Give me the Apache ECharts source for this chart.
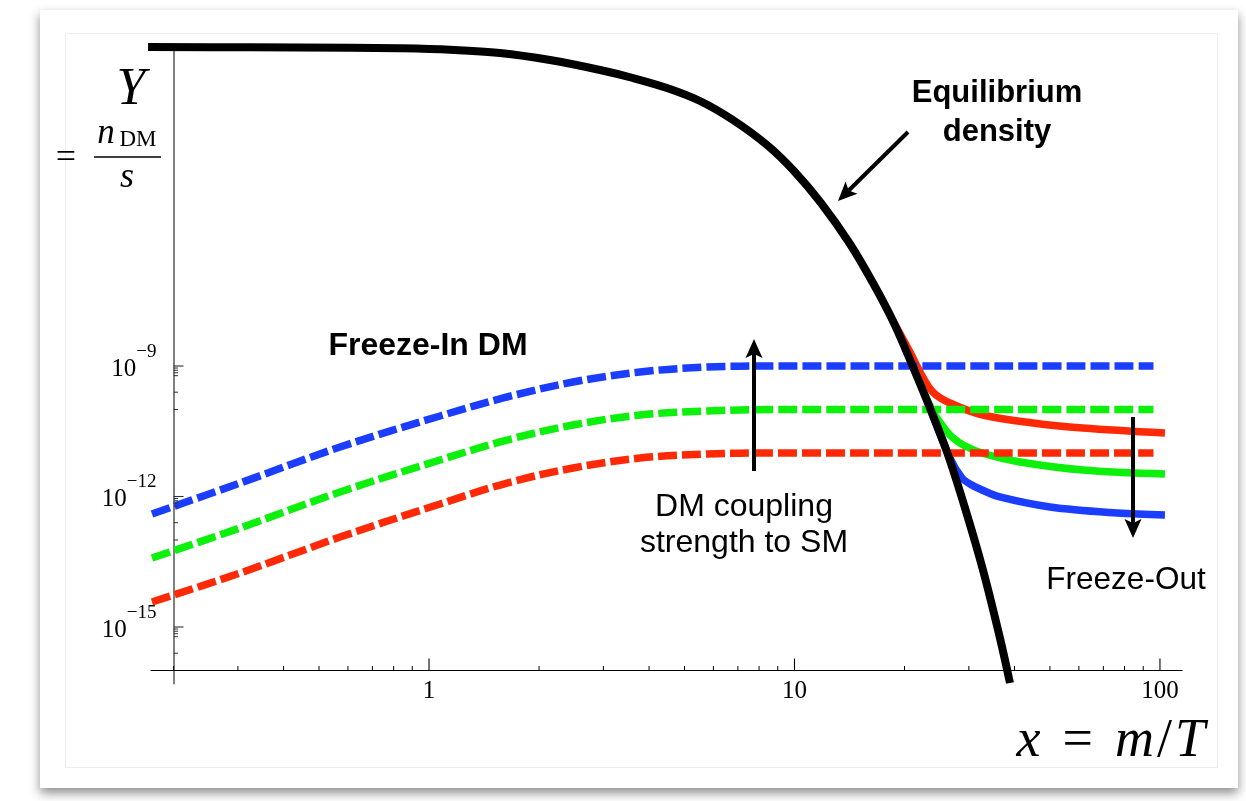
<!DOCTYPE html>
<html><head><meta charset="utf-8">
<script src="https://cdn.jsdelivr.net/npm/echarts@6/dist/echarts.min.js"></script>
<style>html,body{margin:0;padding:0;background:#fff;}#c{width:1246px;height:801px;}</style>
</head><body><div id="c"></div>
<script>
// ---------- data ----------
// Equilibrium density (black)
const eqX = [0.1703, 0.3237, 0.6078, 0.8332, 1.1417, 1.564, 2.143, 2.938, 3.614, 4.479, 5.514, 6.788, 8.410, 9.968, 11.82, 14.19, 16.40, 18.60, 20.83, 23.48, 26.14, 29.28, 32.79, 36.49, 38.87];
const eqY = [0.02153, 0.02118, 0.02075, 0.0201, 0.01858, 0.01567, 0.01081, 0.00638, 0.004178, 0.00246, 0.001236, 4.52e-4, 1.202e-4, 3.04e-5, 5.58e-6, 6.38e-7, 8.09e-8, 1.08e-8, 1.236e-9, 1.083e-10, 1.054e-11, 5.44e-13, 2.04e-14, 5.58e-16, 5.16e-17];

// Freeze-in (dashed)
const fiX      = [0.1746, 0.304, 0.571, 1.072, 1.635, 2.477, 3.778, 5.763, 8.735, 30, 96];
const fiBlueY  = [3.96e-13, 2.04e-12, 1.374e-11, 7.10e-11, 1.94e-10, 4.29e-10, 7.28e-10, 9.48e-10, 1.0e-9, 1.0e-9, 1.0e-9];
const fiGreenY = [3.85e-14, 1.89e-13, 1.27e-12, 6.90e-12, 1.99e-11, 4.40e-11, 7.48e-11, 9.25e-11, 1.0e-10, 1.0e-10, 1.0e-10];
const fiRedY   = [3.76e-15, 1.74e-14, 1.17e-13, 6.73e-13, 2.04e-12, 4.52e-12, 7.67e-12, 9.48e-12, 1.0e-11, 1.0e-11, 1.0e-11];

// Freeze-out (solid)
const foRedX   = [18.60, 20.70, 22.05, 23.92, 26.63, 32.79, 44.93, 61.55, 103.2];
const foRedY   = [1.08e-8, 2.10e-9, 7.28e-10, 2.52e-10, 1.41e-10, 7.48e-11, 4.90e-11, 3.76e-11, 2.88e-11];
const foGreenX = [20.83, 23.78, 25.32, 26.97, 29.28, 33.20, 41.40, 61.55, 103.2];
const foGreenY = [1.236e-9, 9.75e-11, 4.40e-11, 2.33e-11, 1.45e-11, 9.48e-12, 6.21e-12, 4.07e-12, 3.29e-12];
const foBlueX  = [23.48, 26.63, 28.73, 30.21, 32.17, 36.49, 50.0, 76.3, 103.2];
const foBlueY  = [1.083e-10, 7.67e-12, 2.66e-12, 1.94e-12, 1.49e-12, 9.75e-13, 5.74e-13, 4.18e-13, 3.76e-13];

// Ticks and labels
const xLabelTicks = [1, 10, 100];
const xMinorTicks = [0.2,0.3,0.4,0.5,0.6,0.7,0.8,0.9, 2,3,4,5,6,7,8,9, 20,30,40,50,60,70,80,90];
const yLabelTicks = [1e-9, 1e-12, 1e-15];
const yMinorTicks = [9e-10,8e-10,7e-10,6e-10,2.5e-10,1e-10, 9e-13,8e-13,7e-13,6e-13,2.5e-13,1e-13, 9e-16,8e-16,7e-16,6e-16,2.5e-16];

// Axis ranges / crossing point
const X_MIN = 0.1735, X_MAX = 114.9;
const Y_MIN = 5.0e-17, Y_MAX = 0.0184;
const AXIS_CROSS_X = 0.2, AXIS_CROSS_Y = 1e-16;

// ---------- chart ----------
const BLUE = '#1a3dff', GREEN = '#0cf00c', RED = '#ff2a05';
const serif = '"Liberation Serif","Times New Roman",serif';
const sans = '"Liberation Sans",Arial,Helvetica,sans-serif';
const GRID = {left: 151, top: 50, width: 1031, height: 633.6};

const chart = echarts.init(document.getElementById('c'), null, {renderer: 'canvas', width: 1246, height: 801});

function pairs(xs, ys) { return xs.map((x, i) => [x, ys[i]]); }

function lineSeries(name, data, color, dashed, z, width, clip) {
  return {
    type: 'line', name, data, z, clip: clip !== false, smooth: 0.35,
    symbol: 'none', showSymbol: false, silent: true, animation: false,
    lineStyle: {color, width, type: dashed ? [19, 5] : 'solid', cap: 'butt'}
  };
}

function tickSeries(values, orient, len, color, width) {
  return {
    type: 'custom', silent: true, z: 6, clip: false, animation: false,
    data: values.map(v => orient === 'x' ? [v, AXIS_CROSS_Y] : [AXIS_CROSS_X, v]),
    renderItem: (params, api) => {
      const p = api.coord([api.value(0), api.value(1)]);
      const shape = orient === 'x'
        ? {x1: p[0], y1: p[1], x2: p[0], y2: p[1] - len}
        : {x1: p[0], y1: p[1], x2: p[0] + len, y2: p[1]};
      return {type: 'line', shape, style: {stroke: color, lineWidth: width}};
    }
  };
}

function arrow(x1, y1, x2, y2) {
  const dx = x2 - x1, dy = y2 - y1, L = Math.hypot(dx, dy);
  const ux = dx / L, uy = dy / L, nx = -uy, ny = ux;
  const HL = 19, HW = 8.5, NOTCH = 4;
  const bx = x2 - ux * HL, by = y2 - uy * HL;
  const mx = x2 - ux * (HL - NOTCH), my = y2 - uy * (HL - NOTCH);
  return [
    {type: 'line', z: 10, shape: {x1, y1, x2: mx, y2: my}, style: {stroke: '#000', lineWidth: 4}},
    {type: 'polygon', z: 10, shape: {points: [[x2, y2], [bx + nx * HW, by + ny * HW], [mx, my], [bx - nx * HW, by - ny * HW]]}, style: {fill: '#000'}}
  ];
}

function txt(text, x, y, size, opts) {
  opts = opts || {};
  return {
    type: 'text', z: 9, x, y,
    style: {
      text, fill: '#000', fontSize: size,
      fontFamily: opts.family || sans, fontWeight: opts.weight || 'normal',
      fontStyle: opts.style || 'normal',
      align: opts.align || 'center', verticalAlign: 'middle'
    }
  };
}

const graphics = [
  {type: 'rect', z: 0, shape: {x: 40, y: 10, width: 1198, height: 778},
   style: {fill: '#fff', shadowBlur: 10, shadowColor: 'rgba(0,0,0,0.45)', shadowOffsetY: 5}},
  {type: 'rect', z: 1, shape: {x: 65.5, y: 33.5, width: 1152, height: 734},
   style: {fill: 'none', stroke: '#ededed', lineWidth: 1}},
  // annotations
  txt('Equilibrium', 997, 93, 31, {weight: 'bold'}),
  txt('density', 997, 132, 31, {weight: 'bold'}),
  txt('Freeze-In DM', 428, 346, 32, {weight: 'bold'}),
  txt('DM coupling', 744, 507, 32),
  txt('strength to SM', 744, 543, 32),
  txt('Freeze-Out', 1126, 580, 31.5),
  // axis titles
  txt('Y', 131, 90, 52, {family: serif, style: 'italic'}),
  txt('=', 66, 159, 36, {family: serif}),
  txt('n', 106, 134, 35, {family: serif, style: 'italic'}),
  txt('DM', 138, 140, 23, {family: serif}),
  {type: 'line', z: 9, shape: {x1: 94, y1: 157, x2: 161, y2: 157}, style: {stroke: '#000', lineWidth: 1.4}},
  txt('s', 127, 178, 36, {family: serif, style: 'italic'}),
  {type: 'text', z: 9, x: 1205, y: 742, style: {
    text: '{i|x}{e|=}{i|m}{n|/}{i|T}', align: 'right', verticalAlign: 'middle', fill: '#000',
    rich: {
      i: {fontFamily: serif, fontStyle: 'italic', fontSize: 54},
      e: {fontFamily: serif, fontSize: 54, padding: [0, 22, 0, 22]},
      n: {fontFamily: serif, fontSize: 54, padding: [0, 3, 0, 3]}
    }
  }},
  ...arrow(908, 132, 838, 201),
  ...arrow(754, 471, 754, 339),
  ...arrow(1133, 417, 1133, 538)
];

const option = {
  animation: false,
  backgroundColor: '#fff',
  grid: {left: GRID.left, top: GRID.top, width: GRID.width, height: GRID.height, containLabel: false},
  xAxis: {
    type: 'log', logBase: 10, min: X_MIN, max: X_MAX, position: 'bottom',
    axisLine: {show: true, onZero: false, lineStyle: {color: '#000', width: 1.2}},
    axisTick: {show: false}, minorTick: {show: false}, splitLine: {show: false}, minorSplitLine: {show: false},
    axisLabel: {customValues: xLabelTicks, formatter: v => String(Math.round(v)),
      fontFamily: serif, fontSize: 25, color: '#000', margin: 8}
  },
  yAxis: {
    type: 'log', logBase: 10, min: Y_MIN, max: Y_MAX, position: 'left',
    axisLine: {show: true, onZero: false, lineStyle: {color: '#808080', width: 2}},
    axisTick: {show: false}, minorTick: {show: false}, splitLine: {show: false}, minorSplitLine: {show: false},
    axisLabel: {
      customValues: yLabelTicks, margin: 17, padding: [6, 0, 0, 0],
      formatter: v => '{b|10}{s|\u2212' + Math.abs(Math.round(Math.log10(v))) + '}',
      rich: {
        b: {fontFamily: serif, fontSize: 25, lineHeight: 25, verticalAlign: 'bottom', color: '#000'},
        s: {fontFamily: serif, fontSize: 19, lineHeight: 19, verticalAlign: 'bottom', padding: [0, 0, 20, 0], color: '#000'}
      }
    }
  },
  graphic: graphics,
  series: [
    lineSeries('Freeze-out red', pairs(foRedX, foRedY), RED, false, 3, 7.5),
    lineSeries('Freeze-out green', pairs(foGreenX, foGreenY), GREEN, false, 3, 7.5),
    lineSeries('Freeze-out blue', pairs(foBlueX, foBlueY), BLUE, false, 3, 7.5),
    lineSeries('Freeze-in blue', pairs(fiX, fiBlueY), BLUE, true, 3, 7.5),
    lineSeries('Freeze-in green', pairs(fiX, fiGreenY), GREEN, true, 3, 7.5),
    lineSeries('Freeze-in red', pairs(fiX, fiRedY), RED, true, 3, 7.5),
    lineSeries('Equilibrium', pairs(eqX, eqY), '#000', false, 5, 8, false),
    tickSeries(xLabelTicks, 'x', 12, '#000', 1.1),
    tickSeries(xMinorTicks, 'x', 4.5, '#000', 1),
    tickSeries(yLabelTicks, 'y', 10, '#333', 1.1),
    tickSeries(yMinorTicks, 'y', 4.5, '#333', 1)
  ]
};
chart.setOption(option);

// place the axes at their crossing point (x = 0.2, Y = 1e-16)
const pxCross = chart.convertToPixel({xAxisIndex: 0}, AXIS_CROSS_X);
const pyCross = chart.convertToPixel({yAxisIndex: 0}, AXIS_CROSS_Y);
chart.setOption({
  yAxis: {offset: -(pxCross - GRID.left)},
  xAxis: {offset: -((GRID.top + GRID.height) - pyCross)}
});
</script></body></html>
